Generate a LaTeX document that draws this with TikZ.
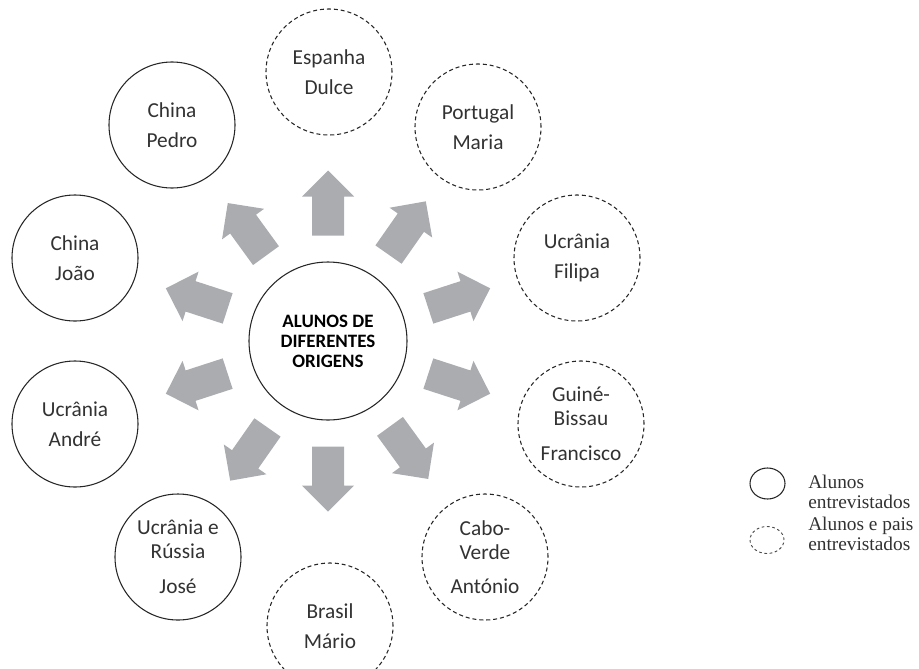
\documentclass[tikz,border=0pt]{standalone}
\usepackage{fontspec}
\setmainfont{Carlito}
\newfontfamily\legendfont{Liberation Serif}
\usetikzlibrary{shapes.geometric}
\definecolor{setacinza}{RGB}{170,172,176}
\definecolor{textocinza}{RGB}{50,50,50}
\begin{document}
\begin{tikzpicture}[x=0.75pt, y=0.75pt, line join=round,
	origem/.style={circle, draw=black!85, line width=0.8pt, minimum size=94.5pt, inner sep=0pt,
		align=center, text=textocinza, font=\fontsize{16}{22.5}\selectfont},
	pais/.style={origem, dash pattern=on 3pt off 2.2pt},
	tres/.style={font=\fontsize{16}{18}\selectfont},
	legenda/.style={anchor=base west, align=left, inner sep=0pt, text=textocinza,
		font=\legendfont\fontsize{14.5}{15}\selectfont}]
	\def\xmin{-328} \def\xmax{591}
	\def\ymin{-327} \def\ymax{341}
	\useasboundingbox (\xmin,\ymin) rectangle (\xmax,\ymax);
	% centro
	\node[origem, minimum size=118.5pt, text=black, font=\bfseries\fontsize{14.2}{15}\selectfont]
		(alunos) at (0,0) {ALUNOS DE\\DIFERENTES\\ORIGENS};
	% setas
	\foreach \ang in {90,55,18,-18,-54,-90,-125,-162,162,126}
		\fill[setacinza, rotate=\ang] (105.5,-16) -- (144.5,-16) -- (144.5,-26) -- (170.5,0)
			-- (144.5,26) -- (144.5,16) -- (105.5,16) -- cycle;
	% alunos entrevistados
	\node[origem] (pedro) at (-156,216) {China\\Pedro};
	\node[origem] (joao) at (-253,83) {China\\João};
	\node[origem] (andre) at (-253,-83) {Ucrânia\\André};
	\node[origem, tres] (jose) at (-150,-216) {Ucrânia e\\Rússia\\[8pt]José};
	% alunos e pais entrevistados
	\node[pais] (dulce) at (1,269) {Espanha\\Dulce};
	\node[pais] (maria) at (150,214) {Portugal\\Maria};
	\node[pais] (filipa) at (249,83) {Ucrânia\\Filipa};
	\node[pais, tres] (francisco) at (253,-83) {Guiné-\\Bissau\\[8pt]Francisco};
	\node[pais, tres] (antonio) at (157,-216) {Cabo-\\Verde\\[8pt]António};
	\node[pais] (mario) at (2,-285) {Brasil\\Mário};
	% legenda
	\node[ellipse, draw=black!85, line width=0.8pt, minimum width=26.25pt, minimum height=23.25pt,
		inner sep=0pt] (simb1) at (439.5,-142.5) {};
	\node[ellipse, draw=black!70, line width=0.7pt, dash pattern=on 2pt off 2pt,
		minimum width=25.5pt, minimum height=20.25pt, inner sep=0pt] (simb2) at (439,-199) {};
	\node[legenda] (leg1) at (480,-167) {Alunos\\entrevistados};
	\node[legenda] (leg2) at (480,-209) {Alunos e pais\\entrevistados};
\end{tikzpicture}
\end{document}
